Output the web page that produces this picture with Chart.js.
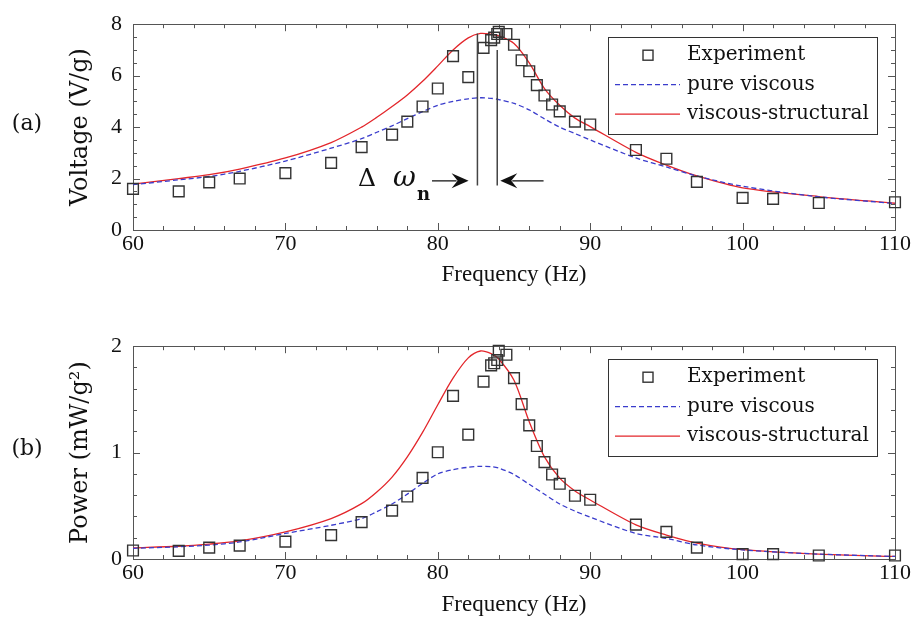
<!DOCTYPE html>
<html>
<head>
<meta charset="utf-8">
<title>Voltage and power frequency response</title>
<script src="https://cdn.jsdelivr.net/npm/chart.js@4.4.0/dist/chart.umd.min.js"></script>
<style>
  html, body { margin: 0; padding: 0; background: #fff; }
  .panel { position: relative; width: 919px; height: 322px; }
</style>
</head>
<body>
<div class="panel"><canvas id="voltage" width="919" height="322"></canvas></div>
<div class="panel"><canvas id="power" width="919" height="322"></canvas></div>
<script>
"use strict";

/* ── data ───────────────────────────────────────────────────────────────── */

var expFreq    = [60, 63, 65, 67, 70, 73, 75, 77, 78, 79, 80, 81, 82, 83, 83.5, 83.7, 83.9, 84, 84.5,
                  85, 85.5, 86, 86.5, 87, 87.5, 88, 89, 90, 93, 95, 97, 100, 102, 105, 110];
var expVoltage = [1.60, 1.50, 1.85, 2.00, 2.21, 2.61, 3.22, 3.71, 4.21, 4.80, 5.50, 6.76, 5.94, 7.08, 7.38, 7.48, 7.62, 7.70, 7.62,
                  7.20, 6.60, 6.17, 5.63, 5.23, 4.88, 4.61, 4.21, 4.10, 3.11, 2.77, 1.87, 1.25, 1.21, 1.05, 1.08];
var expPower   = [0.080, 0.077, 0.107, 0.126, 0.163, 0.224, 0.347, 0.455, 0.587, 0.763, 1.003, 1.533, 1.169, 1.667, 1.820, 1.840, 1.870, 1.957, 1.920,
                  1.700, 1.455, 1.256, 1.062, 0.910, 0.794, 0.707, 0.594, 0.557, 0.323, 0.255, 0.107, 0.046, 0.046, 0.033, 0.033];

var curveFreq       = [60, 63, 65, 67, 70, 73, 75, 76, 77, 78, 79, 80, 81, 82, 82.8, 83.5, 84,
                       85, 86, 87, 88, 89, 90, 93, 95, 97, 100, 105, 110];
var viscousVoltage  = [1.76, 1.95, 2.08, 2.28, 2.68, 3.18, 3.55, 3.80, 4.05, 4.33, 4.60, 4.85, 5.00, 5.10, 5.14, 5.12, 5.07,
                       4.92, 4.67, 4.32, 4.00, 3.75, 3.50, 2.80, 2.45, 2.10, 1.70, 1.29, 1.03];
var structVoltage   = [1.78, 2.00, 2.15, 2.37, 2.80, 3.40, 4.00, 4.38, 4.80, 5.25, 5.78, 6.38, 7.00, 7.47, 7.64, 7.61, 7.55,
                       7.25, 6.50, 5.50, 4.85, 4.35, 4.02, 3.02, 2.52, 2.10, 1.64, 1.30, 1.04];
var viscousPower    = [0.100, 0.115, 0.130, 0.160, 0.240, 0.317, 0.380, 0.445, 0.517, 0.610, 0.710, 0.800, 0.840, 0.862, 0.871, 0.868, 0.855,
                       0.794, 0.702, 0.609, 0.517, 0.450, 0.393, 0.240, 0.194, 0.132, 0.086, 0.046, 0.024];
var structPower     = [0.104, 0.120, 0.140, 0.170, 0.255, 0.380, 0.520, 0.630, 0.770, 0.960, 1.190, 1.450, 1.700, 1.890, 1.955, 1.930, 1.880,
                       1.680, 1.290, 0.960, 0.760, 0.640, 0.555, 0.320, 0.225, 0.150, 0.088, 0.046, 0.024];

var freqTicks    = [60, 70, 80, 90, 100, 110];
var voltageTicks = [0, 2, 4, 6, 8];
var powerTicks   = [0, 1, 2];

var seriesLabels = ["Experiment", "pure viscous", "viscous-structural"];

// Δω_n marker in panel (a): the two resonance lines and the arrows pointing at them
var deltaLines  = [{ x: 82.6, top: 7.64 }, { x: 83.9, top: 7.0 }];
var deltaBottom = 1.73;
var arrowY      = 1.91;
var arrowLeft   = [79.62, 82.02];   // tail, tip
var arrowRight  = [86.94, 84.10];   // tail, tip

/* ── styles ─────────────────────────────────────────────────────────────── */

var RED  = "#e3262b";
var BLUE = "#3a3ccc";
var INK  = "#111";
var AXIS = "#555";

var tickFont   = { family: "Liberation Serif", size: 22 };
var xTitleFont = { family: "Liberation Serif", size: 23 };
var yTitleFont = { family: "DejaVu Serif", size: 24 };

function points(xs, ys) {
    return xs.map(function(x, i) { return { x: x, y: ys[i] }; });
}

/* ── plugin: boxed frame with inward major/minor ticks on all four sides ── */

var frameTicks = {
    id: "frameTicks",
    beforeDatasetsDraw: function(chart, args, opts) {
        var ctx = chart.ctx, a = chart.chartArea;
        var xs = chart.scales.x, ys = chart.scales.y;

        function isMajor(scale, v) {
            return scale.ticks.some(function(t) { return Math.abs(t.value - v) < 1e-6; });
        }

        ctx.save();
        ctx.strokeStyle = AXIS;
        ctx.lineWidth = 1;
        ctx.strokeRect(Math.round(a.left) + 0.5, Math.round(a.top) + 0.5,
                       Math.round(a.right - a.left), Math.round(a.bottom - a.top));
        ctx.beginPath();

        var n = Math.round((xs.max - xs.min) / opts.xMinor), i, v, p, len;
        for (i = 1; i < n; i++) {
            v = xs.min + i * opts.xMinor;
            p = Math.round(xs.getPixelForValue(v)) + 0.5;
            len = isMajor(xs, v) ? 7 : 4;
            ctx.moveTo(p, a.bottom); ctx.lineTo(p, a.bottom - len);
            ctx.moveTo(p, a.top);    ctx.lineTo(p, a.top + len);
        }
        n = Math.round((ys.max - ys.min) / opts.yMinor);
        for (i = 1; i < n; i++) {
            v = ys.min + i * opts.yMinor;
            p = Math.round(ys.getPixelForValue(v)) + 0.5;
            len = isMajor(ys, v) ? 7 : 4;
            ctx.moveTo(a.left, p);  ctx.lineTo(a.left + len, p);
            ctx.moveTo(a.right, p); ctx.lineTo(a.right - len, p);
        }
        ctx.stroke();
        ctx.restore();
    }
};

/* ── plugin: boxed legend inside the plot, top right ───────────────────── */

var boxLegend = {
    id: "boxLegend",
    afterDatasetsDraw: function(chart) {
        var ctx = chart.ctx, a = chart.chartArea;
        var w = 269, h = 97;
        var left = a.right - 18 - w, top = a.top + 13;
        var rows = [18, 47.5, 77];

        ctx.save();
        ctx.fillStyle = "#fff";
        ctx.fillRect(left, top, w, h);
        ctx.strokeStyle = "#333";
        ctx.lineWidth = 1;
        ctx.strokeRect(Math.round(left) + 0.5, Math.round(top) + 0.5, w, h);

        ctx.font = "20px 'DejaVu Serif'";
        ctx.textBaseline = "middle";
        ctx.fillStyle = INK;

        chart.data.datasets.forEach(function(ds, i) {
            var y = top + rows[i];
            if (ds.showLine === false) {
                ctx.strokeStyle = ds.pointBorderColor;
                ctx.lineWidth = ds.pointBorderWidth;
                ctx.strokeRect(left + 35, y - 5, 10, 10);
            } else {
                ctx.strokeStyle = ds.borderColor;
                ctx.lineWidth = ds.borderWidth;
                ctx.setLineDash(ds.borderDash || []);
                ctx.beginPath();
                ctx.moveTo(left + 7, y); ctx.lineTo(left + 72, y);
                ctx.stroke();
                ctx.setLineDash([]);
            }
            ctx.fillText(ds.label, left + 79, y);
        });
        ctx.restore();
    }
};

/* ── plugin: panel letter and the Δω_n annotation ──────────────────────── */

function arrowHead(ctx, tipX, y, dir) {
    ctx.beginPath();
    ctx.moveTo(tipX, y);
    ctx.lineTo(tipX - dir * 17, y - 7.5);
    ctx.lineTo(tipX - dir * 11, y);
    ctx.lineTo(tipX - dir * 17, y + 7.5);
    ctx.closePath();
    ctx.fill();
}

var panelMarks = {
    id: "panelMarks",
    afterDraw: function(chart, args, opts) {
        var ctx = chart.ctx;
        ctx.save();
        ctx.fillStyle = INK;
        ctx.font = "22px 'DejaVu Serif'";
        ctx.textAlign = "center";
        ctx.textBaseline = "middle";
        ctx.fillText(opts.letter, 27, opts.letterY);

        if (opts.delta) {
            var xs = chart.scales.x, ys = chart.scales.y;
            var yb = ys.getPixelForValue(deltaBottom);

            ctx.strokeStyle = "#444";
            ctx.lineWidth = 1.5;
            ctx.beginPath();
            deltaLines.forEach(function(l) {
                var px = xs.getPixelForValue(l.x);
                ctx.moveTo(px, ys.getPixelForValue(l.top));
                ctx.lineTo(px, yb);
            });
            ctx.stroke();

            var ay = ys.getPixelForValue(arrowY);
            var l0 = xs.getPixelForValue(arrowLeft[0]),  l1 = xs.getPixelForValue(arrowLeft[1]);
            var r0 = xs.getPixelForValue(arrowRight[0]), r1 = xs.getPixelForValue(arrowRight[1]);
            ctx.strokeStyle = INK;
            ctx.lineWidth = 1.2;
            ctx.beginPath();
            ctx.moveTo(l0, ay); ctx.lineTo(l1 - 12, ay);
            ctx.moveTo(r0, ay); ctx.lineTo(r1 + 12, ay);
            ctx.stroke();
            arrowHead(ctx, l1, ay, 1);
            arrowHead(ctx, r1, ay, -1);

            ctx.textAlign = "left";
            ctx.textBaseline = "alphabetic";
            ctx.font = "25px 'DejaVu Serif'";
            ctx.fillText("\u0394", l0 - 74, ay + 5);
            ctx.font = "italic 28px 'DejaVu Serif'";
            ctx.fillText("\u03c9", l0 - 39, ay + 5);
            ctx.font = "bold 18px 'DejaVu Serif'";
            ctx.fillText("n", l0 - 15, ay + 19);
        }
        ctx.restore();
    }
};

/* ── chart builder ─────────────────────────────────────────────────────── */

function makeChart(canvasId, cfg) {
    var datasets = [
        {
            label: seriesLabels[0],
            data: points(expFreq, cfg.exp),
            showLine: false,
            pointStyle: "rect",
            pointRadius: 7.6,
            pointBorderColor: "#333",
            pointBorderWidth: 1.4,
            pointBackgroundColor: "rgba(0,0,0,0)",
            clip: false
        },
        {
            label: seriesLabels[1],
            data: points(curveFreq, cfg.viscous),
            borderColor: BLUE,
            borderWidth: 1.3,
            borderDash: [5, 3],
            pointRadius: 0,
            tension: 0.3
        },
        {
            label: seriesLabels[2],
            data: points(curveFreq, cfg.struct),
            borderColor: RED,
            borderWidth: 1.3,
            pointRadius: 0,
            tension: 0.3
        }
    ];

    return new Chart(document.getElementById(canvasId), {
        type: "line",
        data: { datasets: datasets },
        plugins: [frameTicks, boxLegend, panelMarks],
        options: {
            responsive: false,
            animation: false,
            events: [],
            layout: { padding: { left: 0, right: 24, top: cfg.top, bottom: 0 } },
            plugins: {
                legend: { display: false },
                tooltip: { enabled: false },
                frameTicks: { xMinor: 2, yMinor: cfg.yMinor },
                panelMarks: { letter: cfg.letter, letterY: cfg.letterY, delta: cfg.delta }
            },
            scales: {
                x: {
                    type: "linear",
                    min: 60,
                    max: 110,
                    afterBuildTicks: function(s) { s.ticks = freqTicks.map(function(v) { return { value: v }; }); },
                    afterFit: function(s) { s.height = cfg.xHeight; },
                    grid: { display: false, drawTicks: false },
                    border: { display: false },
                    ticks: { font: tickFont, color: INK, padding: 1, maxRotation: 0, autoSkip: false },
                    title: { display: true, text: "Frequency (Hz)", font: xTitleFont, color: INK,
                             padding: { top: 0, bottom: cfg.xTitlePad } }
                },
                y: {
                    type: "linear",
                    min: cfg.yTicks[0],
                    max: cfg.yTicks[cfg.yTicks.length - 1],
                    afterBuildTicks: function(s) { s.ticks = cfg.yTicks.map(function(v) { return { value: v }; }); },
                    afterFit: function(s) { s.width = 133; },
                    grid: { display: false, drawTicks: false },
                    border: { display: false },
                    ticks: { font: tickFont, color: INK, padding: 11 },
                    title: { display: true, text: cfg.yTitle, font: yTitleFont, color: INK,
                             padding: { top: 66.6, bottom: 0 } }
                }
            }
        }
    });
}

makeChart("voltage", {
    exp: expVoltage, viscous: viscousVoltage, struct: structVoltage,
    yTicks: voltageTicks, yMinor: 0.5, yTitle: "Voltage (V/g)",
    top: 13, xHeight: 92, xTitlePad: 33, letter: "(a)", letterY: 124, delta: true
});

makeChart("power", {
    exp: expPower, viscous: viscousPower, struct: structPower,
    yTicks: powerTicks, yMinor: 0.2, yTitle: "Power (mW/g\u00b2)",
    top: 21, xHeight: 85, xTitlePad: 25, letter: "(b)", letterY: 127, delta: false
});
</script>
</body>
</html>
